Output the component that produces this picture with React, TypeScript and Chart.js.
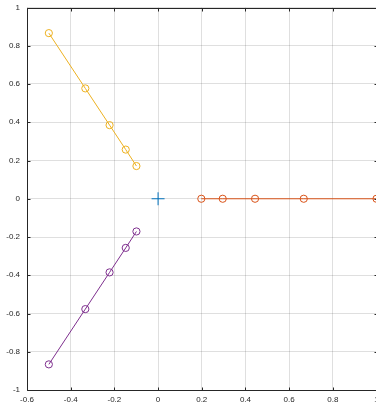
import { useEffect, useRef } from "react";
import { Chart, registerables } from "chart.js";

Chart.register(...registerables);

// Series values
const originX = [0];
const originY = [0];
const orangeX = [1, 0.667, 0.444, 0.296, 0.198];
const orangeY = [0, 0, 0, 0, 0];
const yellowX = [-0.5, -0.333, -0.222, -0.148, -0.099];
const yellowY = [0.866, 0.577, 0.385, 0.257, 0.171];
const purpleX = [-0.5, -0.333, -0.222, -0.148, -0.099];
const purpleY = [-0.866, -0.577, -0.385, -0.257, -0.171];

// Axis limits and tick spacing
const xLimits = [-0.6, 1];
const yLimits = [-1, 1];
const tickStep = 0.2;

const AXIS_COLOR = "#262626";
const GRID_COLOR = "rgba(38,38,38,0.15)";

const zip = (xs: number[], ys: number[]) => xs.map((x, i) => ({ x, y: ys[i] }));

const fmt = (v: number | string) => {
  const n = Number(Number(v).toFixed(1));
  return (Object.is(n, -0) ? 0 : n).toString();
};

// Axes box with inward tick marks on all four sides
const axesBox = {
  id: "axesBox",
  afterDatasetsDraw(chart: any) {
    const { ctx, chartArea: a, scales } = chart;
    const al = (v: number) => Math.round(v) + 0.5;
    const L = al(a.left), R = al(a.right), T = al(a.top), B = al(a.bottom);
    const len = 3;
    ctx.save();
    ctx.strokeStyle = AXIS_COLOR;
    ctx.lineWidth = 1;
    ctx.beginPath();
    ctx.rect(L, T, R - L, B - T);
    for (const t of scales.x.ticks) {
      const px = al(scales.x.getPixelForValue(t.value));
      ctx.moveTo(px, B); ctx.lineTo(px, B - len);
      ctx.moveTo(px, T); ctx.lineTo(px, T + len);
    }
    for (const t of scales.y.ticks) {
      const py = al(scales.y.getPixelForValue(t.value));
      ctx.moveTo(L, py); ctx.lineTo(L + len, py);
      ctx.moveTo(R, py); ctx.lineTo(R - len, py);
    }
    ctx.stroke();
    ctx.restore();
  },
};

const lineSeries = (xs: number[], ys: number[], color: string) => ({
  data: zip(xs, ys),
  showLine: true,
  borderColor: color,
  backgroundColor: "rgba(0,0,0,0)",
  borderWidth: 1,
  pointStyle: "circle",
  pointRadius: 3.6,
  pointBorderWidth: 1,
  pointBorderColor: color,
  pointBackgroundColor: "rgba(0,0,0,0)",
  clip: false,
});

export default function App() {
  const ref = useRef<HTMLCanvasElement>(null);

  useEffect(() => {
    if (!ref.current) return;
    const tickFont = { family: "'Liberation Sans', Arial, sans-serif", size: 8 };
    const chart = new Chart(ref.current, {
      type: "scatter",
      data: {
        datasets: [
          {
            data: zip(originX, originY),
            showLine: false,
            pointStyle: "cross",
            pointRadius: 6.5,
            pointBorderWidth: 1,
            pointBorderColor: "#0072BD",
            borderColor: "#0072BD",
            clip: false,
          } as any,
          lineSeries(orangeX, orangeY, "#D95319"),
          lineSeries(yellowX, yellowY, "#EDB120"),
          lineSeries(purpleX, purpleY, "#7E2F8E"),
        ],
      },
      options: {
        animation: false,
        responsive: false,
        maintainAspectRatio: false,
        events: [],
        layout: { padding: { top: 3, right: 5, left: 0, bottom: 0 } },
        plugins: {
          legend: { display: false },
          tooltip: { enabled: false },
        },
        scales: {
          x: {
            type: "linear",
            min: xLimits[0],
            max: xLimits[1],
            border: { display: false },
            grid: { color: GRID_COLOR, drawTicks: false },
            ticks: {
              stepSize: tickStep,
              autoSkip: false,
              maxRotation: 0,
              padding: 5,
              color: AXIS_COLOR,
              font: tickFont,
              callback: (v: any) => fmt(v),
            },
            afterFit: (s: any) => {
              s.height = 19;
              s.paddingLeft = 0;
              s.paddingRight = 0;
            },
          },
          y: {
            type: "linear",
            min: yLimits[0],
            max: yLimits[1],
            border: { display: false },
            grid: { color: GRID_COLOR, drawTicks: false },
            ticks: {
              stepSize: tickStep,
              autoSkip: false,
              padding: 7,
              color: AXIS_COLOR,
              font: tickFont,
              callback: (v: any) => fmt(v),
            },
            afterFit: (s: any) => {
              s.width = 27;
              s.paddingTop = 0;
              s.paddingBottom = 0;
            },
          },
        },
      },
      plugins: [axesBox],
    });
    return () => chart.destroy();
  }, []);

  return (
    <div
      style={{
        position: "fixed",
        left: 0,
        top: 0,
        width: 376,
        height: 409,
        overflow: "hidden",
        background: "#fff",
      }}
    >
      <canvas ref={ref} width={384} height={409} style={{ width: 384, height: 409, display: "block" }} />
    </div>
  );
}
